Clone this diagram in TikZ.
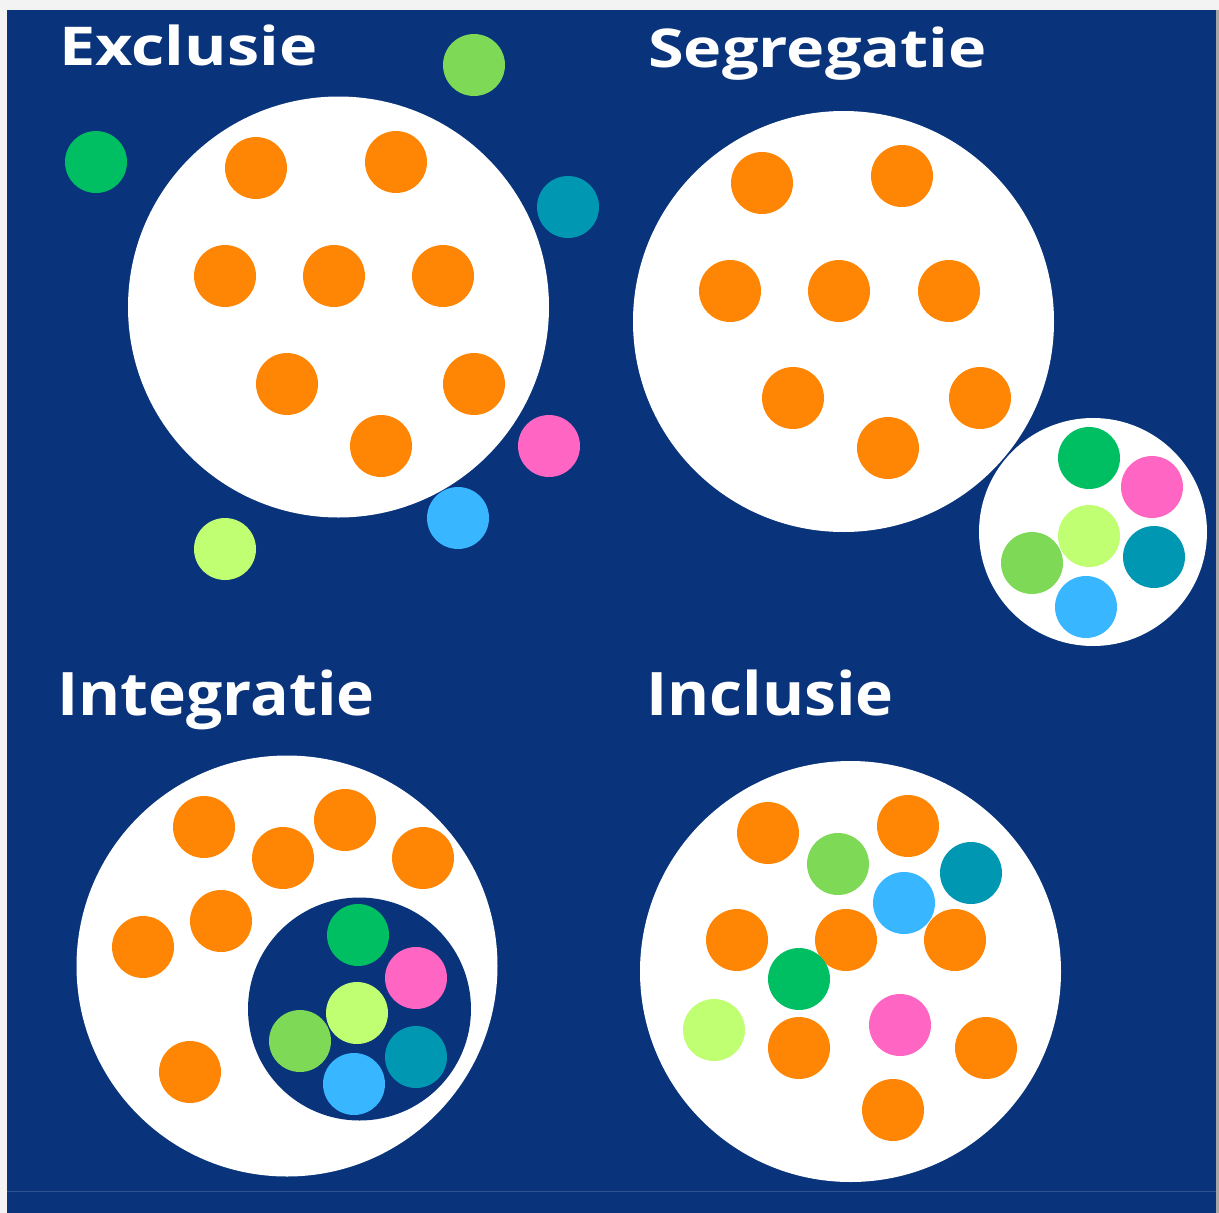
\documentclass[tikz,border=0pt]{standalone}
\usepackage{fontspec}
\newfontfamily\titlefont{Open Sans}[FakeStretch=1.21]
\newfontfamily\titlefontb{Open Sans}[FakeStretch=1.07]
\definecolor{navy}{HTML}{09337A}
\definecolor{cOr}{HTML}{FF8604}
\definecolor{cGr}{HTML}{00BF63}
\definecolor{cPk}{HTML}{FF66C4}
\definecolor{cYg}{HTML}{C1FF72}
\definecolor{cTl}{HTML}{0097B2}
\definecolor{cLg}{HTML}{7ED957}
\definecolor{cLb}{HTML}{38B6FF}
\definecolor{frame}{HTML}{F3F3F3}
\tikzset{
  dot/.style={circle, fill=#1, draw=none, minimum size=62pt, inner sep=0pt},
  bigc/.style={circle, fill=white, draw=none, minimum size=421pt, inner sep=0pt},
  title/.style={anchor=base west, inner sep=0pt, text=white, font=\titlefont\bfseries\fontsize{53.5}{60}\selectfont},
  titleb/.style={anchor=base west, inner sep=0pt, text=white, font=\titlefontb\bfseries\fontsize{60}{66}\selectfont},
}
\begin{document}
\begin{tikzpicture}[x=1pt,y=-1pt]
\useasboundingbox (0,0) rectangle (1219,1213);
\fill[frame] (0,0) rectangle (1219,1213);
\fill[navy] (7,10) rectangle (1216,1213);
\fill[gray!70] (1216,10) rectangle (1219,1213);
\draw[navy!85!white, line width=0.8pt] (7,1191) -- (1216,1191);

% Titles
\node[title] (tExcl) at (59,65) {Exclusie};
\node[title] (tSegr) at (648,67) {Segregatie};
\node[titleb] (tInte) at (57,715) {Integratie};
\node[titleb] (tIncl) at (646,715) {Inclusie};

% Exclusie
\node[bigc] (exC) at (338.5,307) {};
\foreach \p [count=\i] in {(256,168),(396,162),(225,276),(334,276),(443,276),(287,384),(474,384),(381,446)}
  \node[dot=cOr] (exO\i) at \p {};
\node[dot=cLg] (exLg) at (474,65) {};
\node[dot=cGr] (exGr) at (96,162) {};
\node[dot=cTl] (exTl) at (568,207) {};
\node[dot=cPk] (exPk) at (549,446) {};
\node[dot=cLb] (exLb) at (458,518) {};
\node[dot=cYg] (exYg) at (225,549) {};

% Segregatie
\node[bigc] (seC) at (843.5,321.5) {};
\foreach \p [count=\i] in {(762,183),(902,176),(730,291),(839,291),(949,291),(793,398),(980,398),(888,448)}
  \node[dot=cOr] (seO\i) at \p {};
\node[circle, fill=white, minimum size=228pt, inner sep=0pt] (seS) at (1093,532) {};
\node[dot=cGr] (seGr) at (1089,458) {};
\node[dot=cPk] (sePk) at (1152,487) {};
\node[dot=cYg] (seYg) at (1089,536) {};
\node[dot=cTl] (seTl) at (1154,557) {};
\node[dot=cLg] (seLg) at (1032,563) {};
\node[dot=cLb] (seLb) at (1086,607) {};

% Integratie
\node[bigc] (inC) at (287,966) {};
\foreach \p [count=\i] in {(204,827),(345,820),(283,858),(423,858),(221,921),(143,947),(190,1072)}
  \node[dot=cOr] (inO\i) at \p {};
\node[circle, fill=navy, minimum size=223pt, inner sep=0pt] (inS) at (359.5,1009) {};
\node[dot=cGr] (inGr) at (358,935) {};
\node[dot=cPk] (inPk) at (416,978) {};
\node[dot=cYg] (inYg) at (357,1013) {};
\node[dot=cLg] (inLg) at (300,1041) {};
\node[dot=cTl] (inTl) at (416,1057) {};
\node[dot=cLb] (inLb) at (354,1084) {};

% Inclusie
\node[bigc] (icC) at (850.5,971.5) {};
\foreach \p [count=\i] in {(768,833),(908,826),(737,940),(846,940),(955,940),(799,1048),(986,1048),(893,1110)}
  \node[dot=cOr] (icO\i) at \p {};
\node[dot=cLg] (icLg) at (838,864) {};
\node[dot=cTl] (icTl) at (971,873) {};
\node[dot=cLb] (icLb) at (904,903) {};
\node[dot=cGr] (icGr) at (799,979) {};
\node[dot=cYg] (icYg) at (714,1030) {};
\node[dot=cPk] (icPk) at (900,1025) {};
\end{tikzpicture}
\end{document}
